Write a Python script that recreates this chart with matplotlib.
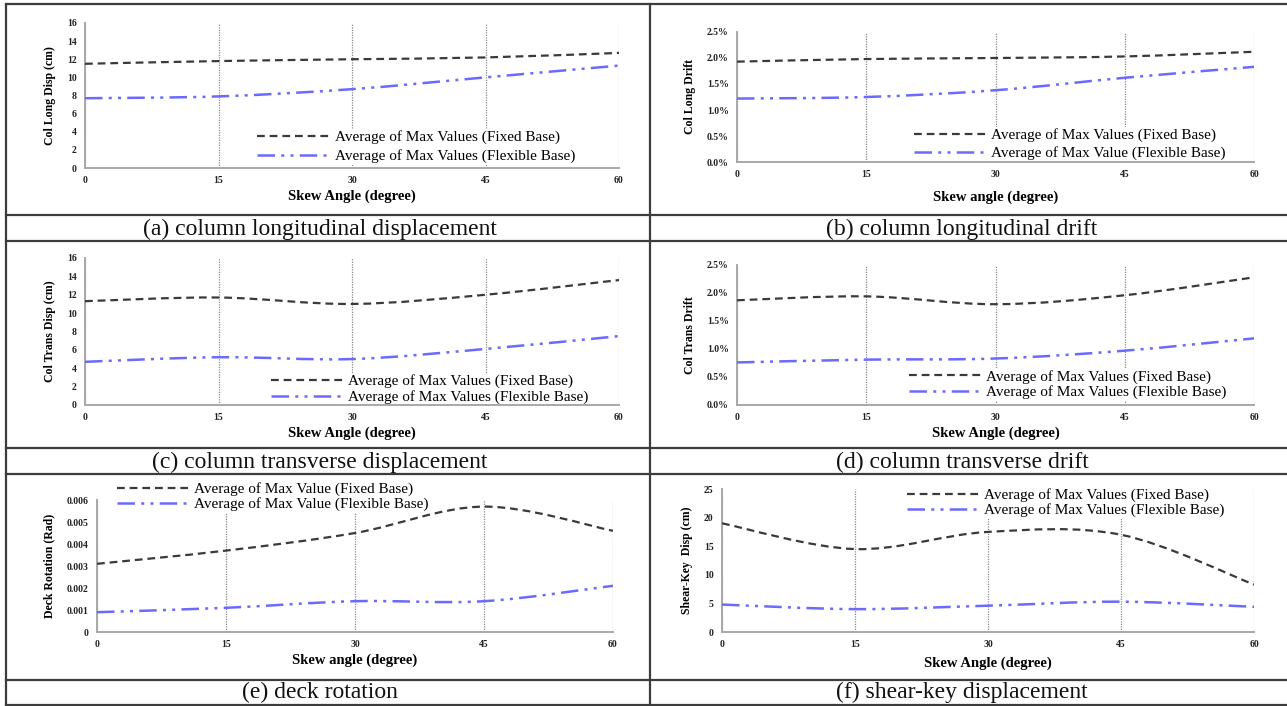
import matplotlib
matplotlib.use("Agg")
import matplotlib.pyplot as plt
from matplotlib.path import Path
from matplotlib.patches import PathPatch
from matplotlib.lines import Line2D
import numpy as np

# ---------------------------------------------------------------- data
skew = [0, 15, 30, 45, 60]

col_long_fixed = [11.5, 11.8, 12.0, 12.2, 12.7]
col_long_flex = [7.7, 7.9, 8.7, 10.0, 11.3]

drift_long_fixed = [1.93, 1.98, 2.00, 2.03, 2.12]
drift_long_flex = [1.22, 1.25, 1.38, 1.62, 1.83]

col_trans_fixed = [11.3, 11.7, 11.0, 12.0, 13.6]
col_trans_flex = [4.7, 5.2, 5.0, 6.1, 7.5]

drift_trans_fixed = [1.87, 1.94, 1.80, 1.96, 2.28]
drift_trans_flex = [0.76, 0.81, 0.83, 0.97, 1.19]

deck_rot_fixed = [0.0031, 0.0037, 0.0045, 0.0057, 0.0046]
deck_rot_flex = [0.0009, 0.0011, 0.0014, 0.0014, 0.0021]

shear_key_fixed = [19.0, 14.5, 17.5, 17.0, 8.3]
shear_key_flex = [4.8, 4.0, 4.6, 5.3, 4.4]

captions = ["(a) column longitudinal displacement", "(b) column longitudinal drift",
            "(c) column transverse displacement", "(d) column transverse drift",
            "(e) deck rotation", "(f) shear-key displacement"]

# ---------------------------------------------------------------- style
W, H = 1287, 706
SERIF = ["Liberation Serif", "DejaVu Serif"]
FIXED_C = "#3a3a3a"
FLEX_C = "#6a6aff"
FIXED_LS = (0, (3.5, 2.2))
FLEX_LS = (0, (7, 2.5, 1.2, 2.5, 1.2, 2.5))

fig = plt.figure(figsize=(W / 100, H / 100), dpi=100)


def px_axes(left, top, right, bottom):
    return fig.add_axes([left / W, 1 - bottom / H, (right - left) / W, (bottom - top) / H])


def smooth_path(x, y):
    # excel-like smoothed line: cubic bezier through the points
    pts = np.column_stack([x, y]).astype(float)
    n = len(pts)
    verts = [pts[0]]
    codes = [Path.MOVETO]
    for i in range(n - 1):
        p0 = pts[max(i - 1, 0)]
        p1 = pts[i]
        p2 = pts[i + 1]
        p3 = pts[min(i + 2, n - 1)]
        verts += [p1 + (p2 - p0) / 6, p2 - (p3 - p1) / 6, p2]
        codes += [Path.CURVE4] * 3
    return Path(verts, codes)


def panel(box, fixed, flex, ylim, yticks, ylabel, xlabel, labels, leg_loc, fmt=None,
          xl_pad=3, yl_size=8.5, lspace=0.1):
    ax = px_axes(*box)
    for vals, c, ls, lw in [(fixed, FIXED_C, FIXED_LS, 1.6), (flex, FLEX_C, FLEX_LS, 1.8)]:
        ax.add_patch(PathPatch(smooth_path(skew, vals), fill=False, edgecolor=c,
                               linestyle=ls, lw=lw, capstyle="butt", zorder=3))
    ax.set_xlim(0, 60)
    ax.set_ylim(*ylim)
    ax.set_xticks(skew)
    ax.set_yticks(yticks)
    if fmt:
        ax.set_yticklabels([fmt(v) for v in yticks])
    ax.grid(axis="x", color="#8a8a8a", linestyle=(0, (1, 1)), lw=0.9)
    for s in ["top", "right"]:
        ax.spines[s].set_visible(False)
    for s in ["left", "bottom"]:
        ax.spines[s].set_color("#a8a8a8")
        ax.spines[s].set_linewidth(1.4)
    ax.tick_params(length=0, pad=6, labelsize=7, labelcolor="#222222")
    for t in ax.get_xticklabels() + ax.get_yticklabels():
        t.set_family(SERIF)
        t.set_fontweight("bold")
    ax.set_xlabel(xlabel, family=SERIF, fontweight="bold", fontsize=10.5, labelpad=xl_pad)
    ax.set_ylabel(ylabel, family=SERIF, fontweight="bold", fontsize=yl_size, labelpad=8)
    handles = [Line2D([], [], color=FIXED_C, ls=FIXED_LS, lw=1.6),
               Line2D([], [], color=FLEX_C, ls=FLEX_LS, lw=1.8)]
    leg = ax.legend(handles, labels, loc="upper left", bbox_to_anchor=leg_loc,
                    frameon=True, framealpha=1, edgecolor="none", fancybox=False,
                    prop={"family": SERIF, "size": 11}, handlelength=4.7,
                    handletextpad=0.35, labelspacing=lspace, borderpad=0.1,
                    borderaxespad=0)
    # above the grid, below the spines
    leg.set_zorder(2.4)
    return ax


fixed_s = "Average of Max Values (Fixed Base)"
flex_s = "Average of Max Values (Flexible Base)"
pct = lambda v: "%.1f%%" % v

panel((85, 23, 619, 168), col_long_fixed, col_long_flex, (0, 16), range(0, 17, 2),
      "Col Long Disp (cm)", "Skew Angle (degree)", [fixed_s, flex_s], (0.32, 0.27),
      lspace=0.33)
panel((737, 32, 1254, 162), drift_long_fixed, drift_long_flex, (0, 2.5),
      [0, 0.5, 1.0, 1.5, 2.0, 2.5], "Col Long Drift", "Skew angle (degree)",
      [fixed_s, "Average of Max Value (Flexible Base)"], (0.34, 0.27), fmt=pct, xl_pad=8,
      lspace=0.26)
panel((85, 258, 619, 405), col_trans_fixed, col_trans_flex, (0, 16), range(0, 17, 2),
      "Col Trans Disp (cm)", "Skew Angle (degree)", [fixed_s, flex_s], (0.345, 0.218),
      lspace=0.13)
panel((737, 265, 1254, 405), drift_trans_fixed, drift_trans_flex, (0, 2.5),
      [0, 0.5, 1.0, 1.5, 2.0, 2.5], "Col Trans Drift", "Skew Angle (degree)",
      [fixed_s, flex_s], (0.33, 0.264), fmt=pct, lspace=0.13)
panel((97, 500, 613, 632), deck_rot_fixed, deck_rot_flex, (0, 0.006),
      [0, 0.001, 0.002, 0.003, 0.004, 0.005, 0.006], "Deck Rotation (Rad)",
      "Skew angle (degree)", ["Average of Max Value (Fixed Base)",
                              "Average of Max Value (Flexible Base)"], (0.035, 1.144),
      fmt=lambda v: "0" if v == 0 else "%.3f" % v, lspace=0.05)
panel((722, 489, 1254, 632), shear_key_fixed, shear_key_flex, (0, 25), range(0, 26, 5),
      "Shear-Key  Disp (cm)", "Skew Angle (degree)", [fixed_s, flex_s], (0.345, 1.014),
      xl_pad=5, lspace=0.05)

# ---------------------------------------------------------------- table frame
cap_y = [229, 462, 692]
for r, y in enumerate(cap_y):
    fig.text(320 / W, 1 - y / H, captions[2 * r], ha="center", va="center",
             family=SERIF, fontsize=17, color="#111111")
    fig.text(962 / W, 1 - y / H, captions[2 * r + 1], ha="center", va="center",
             family=SERIF, fontsize=17, color="#111111")

frame = dict(color="#3c3c3c", lw=1.6, transform=fig.transFigure)
for y in [4, 215, 241, 448, 474, 680, 705]:
    fig.add_artist(Line2D([6 / W, 1], [1 - y / H] * 2, **frame))
for x in [6, 650]:
    fig.add_artist(Line2D([x / W] * 2, [1 - 4 / H, 1 - 705 / H], **frame))

fig.savefig("out.png", dpi=100)
